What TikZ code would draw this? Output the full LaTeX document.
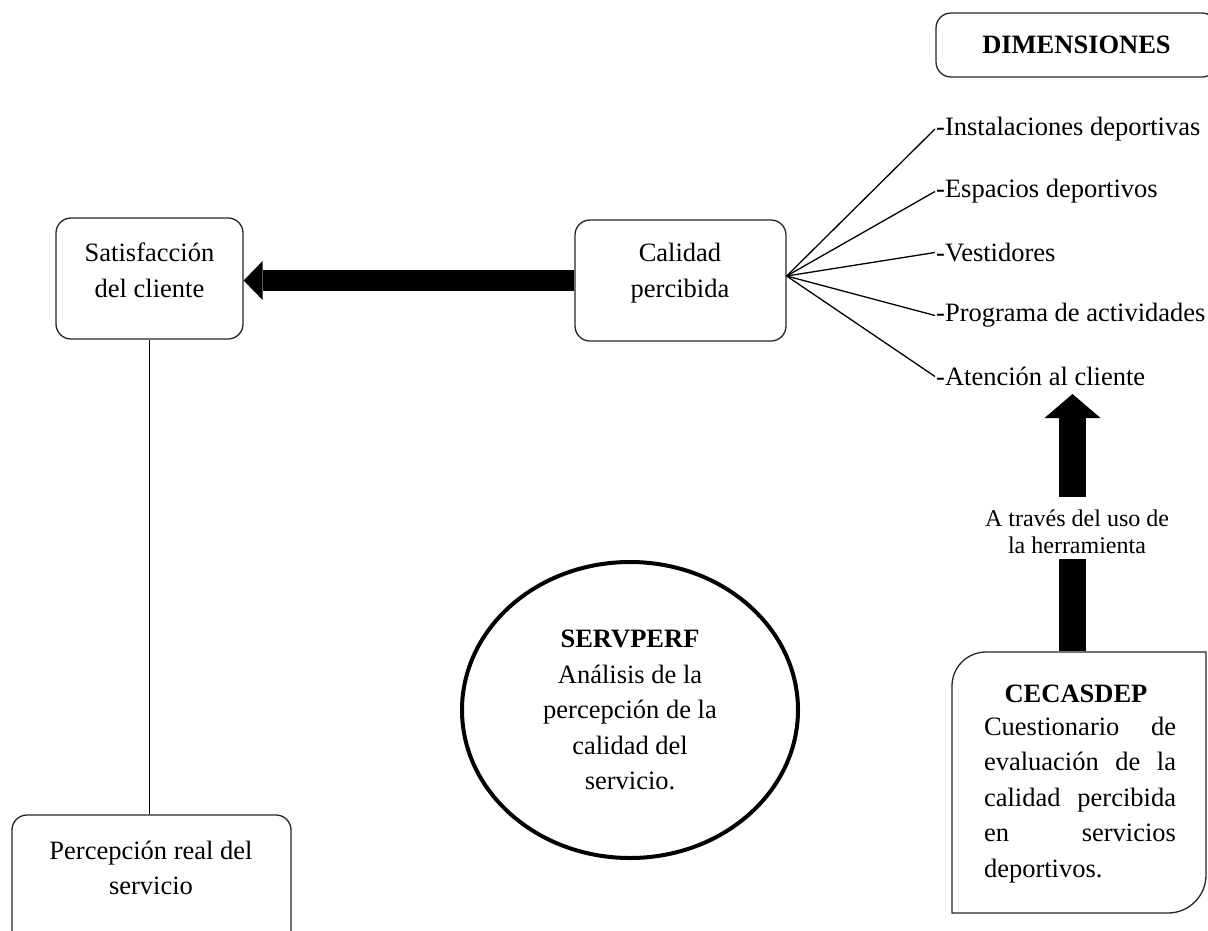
\documentclass[tikz,border=0pt]{standalone}
\usepackage{fontspec}
\setmainfont{Liberation Serif}
\usetikzlibrary{arrows.meta,shapes.geometric,calc}
\begin{document}
\begin{tikzpicture}[x=1pt,y=-1pt,
  box/.style={draw=black!85, line width=1.3pt, rounded corners=15pt, inner sep=0pt},
  txt/.style={font=\fontsize{26.5}{35.5}\selectfont, align=center, inner sep=0pt},
  item/.style={font=\fontsize{26.5}{35.5}\selectfont, anchor=west, inner sep=1pt},
  small/.style={font=\fontsize{24}{27}\selectfont, align=center, inner sep=0pt},
  fanline/.style={line width=1.3pt},
  plainline/.style={line width=1.3pt},
  blockarrow/.style={line width=#1, draw=black}
]
\useasboundingbox (0,0) rectangle (1208,930);

% boxes
\node[box, minimum width=187pt, minimum height=121pt] (satis) at (149.5,278.5) {};
\node[txt] (satisT) at (149.5,270.5) {Satisfacción\\del cliente};

\node[box, minimum width=211pt, minimum height=121pt] (calidad) at (680.5,280.5) {};
\node[txt] (calidadT) at (680,273) {Calidad\\percibida};

\node[box, minimum width=279pt, minimum height=140pt] (percep) at (151.5,885) {};
\node[txt] (percepT) at (151,868) {Percepción real del\\servicio};

\node[box, minimum width=281pt, minimum height=64pt, font=\fontsize{26.5}{35.5}\selectfont\bfseries] (dim) at (1076.5,45) {DIMENSIONES};

% ellipse
\node[ellipse, draw, line width=4pt, minimum width=336pt, minimum height=296pt, txt] (serv) at (630,710)
  {\textbf{SERVPERF}\\Análisis de la\\percepción de la\\calidad del\\servicio.};

% thick arrow left
\draw[line width=21pt, -{Triangle[width=39pt,length=19pt,line width=0pt]}] (calidad.west) -- (satis.east |- calidad.west);

% vertical connector
\draw[plainline] (satis.south) -- (satis.south |- percep.north);

% dimension items
\node[item] (inst) at (935,129) {-Instalaciones deportivas};
\node[item] (esp) at (935,191.5) {-Espacios deportivos};
\node[item] (vest) at (935,252.5) {-Vestidores};
\node[item] (prog) at (935,315.5) {-Programa de actividades};
\node[item] (aten) at (935,376.5) {-Atención al cliente};

\coordinate (fanO) at ($(calidad.east)+(0,-4.5)$);
\foreach \n in {inst,esp,vest,prog,aten} {
  \draw[fanline] (fanO) -- (\n.west);
}

% upward arrow
\coordinate (upB) at (1072.5,497);
\coordinate (upT) at (1072.5,394);
\draw[line width=27pt, -{Triangle[width=56pt,length=24pt,line width=0pt]}] (upB) -- (upT);

\node[small] (atraves) at (1077,531.5) {A través del uso de\\la herramienta};

% CECASDEP box
\draw[line width=1.3pt, draw=black!85] (952,913) -- (952,686) .. controls (952,667.2) and (967.2,652) .. (986,652)
  -- (1206,652) -- (1206,875) .. controls (1206,896) and (1189,913) .. (1168,913) -- cycle;
\coordinate (cecTop) at (1072.5,651);
\coordinate (barT) at (1072.5,559);
\draw[line width=27pt] (barT) -- (cecTop);

\node[txt, font=\fontsize{26.5}{35.5}\selectfont\bfseries] (cectitle) at (1076,693.5) {CECASDEP};
\node[txt, align=left] (cecbody) at (1080,800)
  {\makebox[192pt][s]{Cuestionario de}\\
   \makebox[192pt][s]{evaluación de la}\\
   \makebox[192pt][s]{calidad percibida}\\
   \makebox[192pt][s]{en servicios}\\
   \makebox[192pt][l]{deportivos.}};
\end{tikzpicture}
\end{document}
